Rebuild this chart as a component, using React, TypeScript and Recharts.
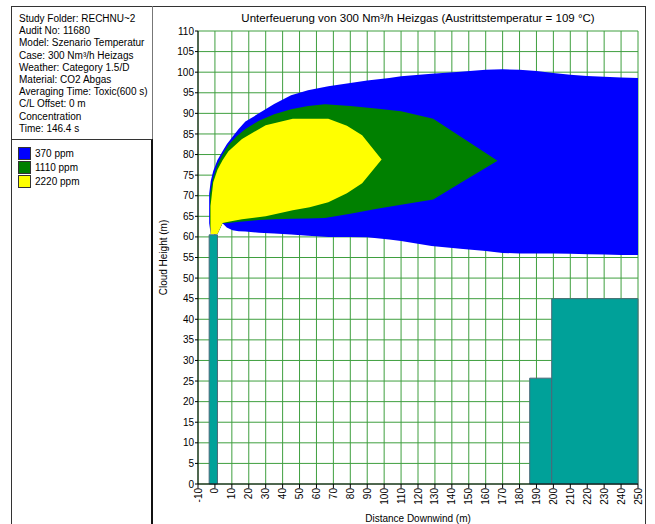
import React from 'react';
import { ComposedChart, Area, XAxis, YAxis, CartesianGrid, ReferenceArea } from 'recharts';

const FONT = '"Liberation Sans", Arial, sans-serif';

// info panel
const infoLines = [
  'Study Folder: RECHNU~2',
  'Audit No: 11680',
  'Model: Szenario Temperatur',
  'Case: 300 Nm³/h Heizags',
  'Weather: Category 1.5/D',
  'Material: CO2 Abgas',
  'Averaging Time: Toxic(600 s)',
  'C/L Offset: 0 m',
  'Concentration',
  'Time: 146.4 s',
];
const legendLabels = ['370 ppm', '1110 ppm', '2220 ppm'];
const legendColors = ['#0000FF', '#008000', '#FFFF00'];

const xTicks = [-10, 0, 10, 20, 30, 40, 50, 60, 70, 80, 90, 100, 110, 120, 130, 140, 150, 160, 170, 180, 190, 200, 210, 220, 230, 240, 250];
const yTicks = [0, 5, 10, 15, 20, 25, 30, 35, 40, 45, 50, 55, 60, 65, 70, 75, 80, 85, 90, 95, 100, 105, 110];

// 370 ppm contour (lower / upper edge in m)
const blueX = [-3.4, -2.5, -1, 1.5, 4.5, 7, 10.4, 14, 18, 26, 35, 45, 55, 67, 80, 90, 103, 110, 128, 145, 160, 170, 180, 190, 200, 210, 220, 230, 240, 250];
const blueLow = [63.3, 60.7, 60.7, 60.7, 63.3, 62.3, 61.6, 61.4, 61.3, 61.0, 60.8, 60.6, 60.3, 60.0, 60.0, 59.9, 59.4, 59.0, 57.8, 57.1, 56.6, 56.1, 56.0, 56.0, 56.0, 55.9, 55.8, 55.7, 55.6, 55.6];
const blueHigh = [70.5, 73.5, 76, 78.7, 80.8, 82.5, 84.3, 86.2, 88.0, 90.0, 92.3, 94.4, 95.6, 96.6, 97.4, 98.0, 98.6, 99.0, 99.6, 100.1, 100.6, 100.7, 100.6, 100.3, 99.8, 99.4, 99.1, 98.9, 98.7, 98.6];

// 1110 ppm contour
const greenX = [-2.9, -1, 1.5, 4.5, 8, 13, 18, 26, 35, 45, 55, 65, 80, 95, 110, 129, 148, 167];
const greenLow = [62.5, 60.7, 60.7, 63.3, 63.4, 63.6, 63.8, 64.1, 64.3, 64.4, 64.5, 64.6, 65.6, 66.8, 67.8, 69.1, 73.8, 78.5];
const greenHigh = [70.5, 74.5, 77.5, 80, 82.3, 84.5, 86.2, 88.2, 89.8, 91.0, 91.8, 92.2, 91.8, 91.2, 90.5, 88.7, 83.6, 78.5];

// 2220 ppm contour
const yellowX = [-2.6, -1, 1.5, 4.5, 8, 16, 30, 46, 56, 67, 78, 87, 98.5];
const yellowLow = [60.7, 60.7, 60.7, 63.4, 63.7, 64.3, 65.0, 66.5, 67.2, 68.4, 70.6, 73.0, 78.8];
const yellowHigh = [67.5, 73.3, 76.3, 78.6, 80.8, 83.8, 87.1, 88.7, 88.7, 88.7, 87.0, 84.7, 78.8];

// stack + buildings: [x start, x end, height]
const structStart = [-3.4, 186, 199];
const structEnd = [1.5, 199, 250];
const structHeight = [60.5, 25.7, 45];

const toRange = (xs: number[], lo: number[], hi: number[]) =>
  xs.map((x, i) => ({ x, range: [lo[i], hi[i]] }));

const blueData = toRange(blueX, blueLow, blueHigh);
const greenData = toRange(greenX, greenLow, greenHigh);
const yellowData = toRange(yellowX, yellowLow, yellowHigh);

const XTick = ({ x, y, payload }: any) => (
  <text
    x={x}
    y={y}
    transform={`rotate(-90 ${x} ${y})`}
    textAnchor="end"
    dominantBaseline="central"
    fontSize={10}
    fontFamily={FONT}
    fill="#000"
  >
    {payload.value}
  </text>
);

const line = (style: React.CSSProperties): React.CSSProperties => ({
  position: 'absolute',
  background: '#333',
  ...style,
});

export default function App() {
  return (
    <div style={{ position: 'fixed', left: 0, top: 0, width: 655, height: 524, background: '#fff', fontFamily: FONT, overflow: 'hidden' }}>
      {/* frame */}
      <div style={line({ left: 11, top: 6, width: 635, height: 1 })} />
      <div style={line({ left: 11, top: 6, width: 1, height: 518 })} />
      <div style={line({ left: 645, top: 6, width: 1, height: 518 })} />
      <div style={line({ left: 152, top: 6, width: 1, height: 133, background: '#777' })} />
      <div style={line({ left: 151, top: 139, width: 2, height: 385, background: '#111' })} />
      <div style={line({ left: 11, top: 139, width: 141, height: 1 })} />

      <div style={{ position: 'absolute', left: 19, top: 13, fontSize: 10, lineHeight: '12.2px', color: '#000' }}>
        {infoLines.map((t) => (
          <div key={t} style={{ whiteSpace: 'nowrap' }}>{t}</div>
        ))}
      </div>

      <div style={{ position: 'absolute', left: 18, top: 146 }}>
        {legendLabels.map((t, i) => (
          <div key={t} style={{ display: 'flex', alignItems: 'center', height: 14.3, fontSize: 10 }}>
            <div style={{ width: 13, height: 13, background: legendColors[i], border: '1px solid #333', boxSizing: 'border-box', marginRight: 4 }} />
            <span>{t}</span>
          </div>
        ))}
      </div>

      <div style={{ position: 'absolute', left: 198, width: 440, top: 12, textAlign: 'center', fontSize: 11.5, whiteSpace: 'nowrap' }}>
        Unterfeuerung von 300 Nm³/h Heizgas (Austrittstemperatur = 109 °C)
      </div>

      <div style={{ position: 'absolute', left: 0, top: 0 }}>
        <ComposedChart width={655} height={524} margin={{ top: 31, right: 17, bottom: 0, left: 155 }}>
          <CartesianGrid stroke="#3f9f3f" horizontal vertical />
          <XAxis
            xAxisId={0}
            dataKey="x"
            type="number"
            domain={[-10, 250]}
            ticks={xTicks}
            interval={0}
            height={40}
            tickSize={4}
            tickMargin={0}
            tick={<XTick />}
            axisLine={{ stroke: '#000' }}
            tickLine={{ stroke: '#000' }}
            allowDataOverflow
            label={{ value: 'Distance Downwind (m)', position: 'insideBottom', offset: 2, fontSize: 10, fill: '#000', fontFamily: FONT }}
          />
          <XAxis xAxisId="top" orientation="top" type="number" domain={[-10, 250]} height={0} tick={false} tickLine={false} axisLine={{ stroke: '#333' }} />
          <YAxis
            yAxisId={0}
            type="number"
            domain={[0, 110]}
            ticks={yTicks}
            interval={0}
            width={43}
            tickSize={3}
            tickMargin={1}
            tick={{ fontSize: 10, fill: '#000', fontFamily: FONT }}
            axisLine={{ stroke: '#000' }}
            tickLine={{ stroke: '#000' }}
            allowDataOverflow
            label={{ value: 'Cloud Height (m)', angle: -90, position: 'insideLeft', offset: 8, fontSize: 10, fill: '#000', fontFamily: FONT, style: { textAnchor: 'middle' } }}
          />
          <YAxis yAxisId="right" orientation="right" type="number" domain={[0, 110]} width={0} tick={false} tickLine={false} axisLine={{ stroke: '#333' }} />
          <Area data={blueData} dataKey="range" type="linear" fill="#0000FF" fillOpacity={1} stroke="none" isAnimationActive={false} />
          <Area data={greenData} dataKey="range" type="linear" fill="#008000" fillOpacity={1} stroke="none" isAnimationActive={false} />
          <Area data={yellowData} dataKey="range" type="linear" fill="#FFFF00" fillOpacity={1} stroke="none" isAnimationActive={false} />
          {structStart.map((s, i) => (
            <ReferenceArea
              key={i}
              x1={s}
              x2={structEnd[i]}
              y1={0}
              y2={structHeight[i]}
              fill="#00A199"
              fillOpacity={1}
              stroke="#4a6878"
              strokeWidth={1}
            />
          ))}
        </ComposedChart>
      </div>
    </div>
  );
}
